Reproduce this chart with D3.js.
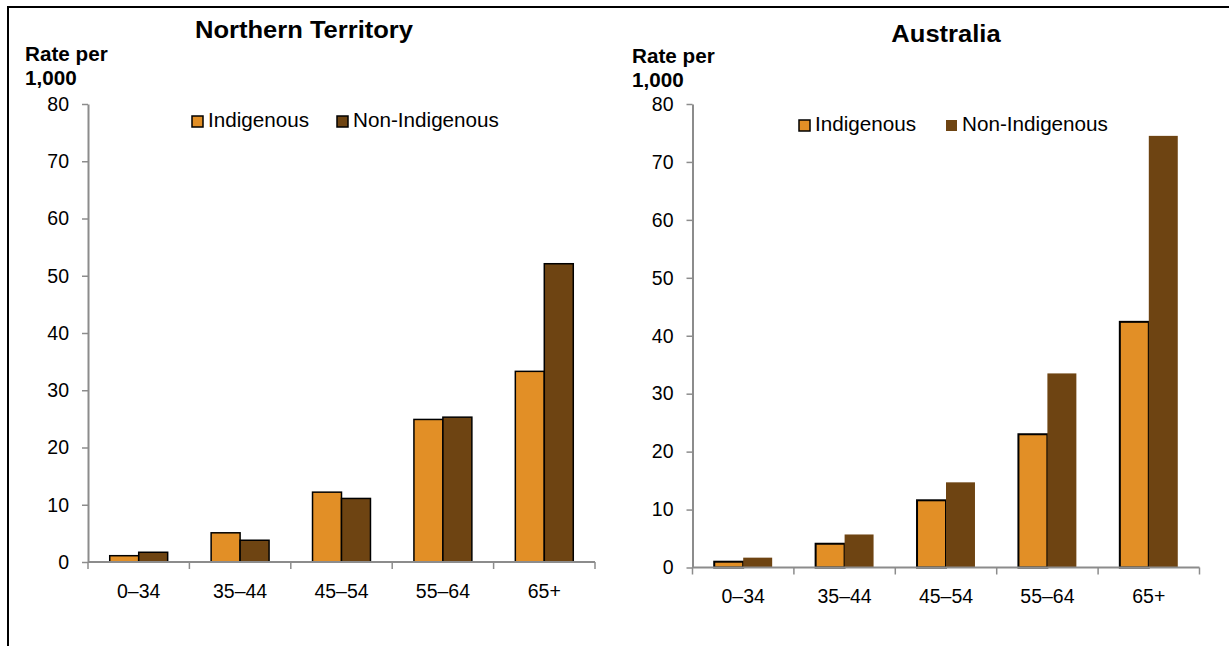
<!DOCTYPE html>
<html>
<head>
<meta charset="utf-8">
<script src="https://cdn.jsdelivr.net/npm/d3@7"></script>
<style>
  html, body { margin: 0; padding: 0; background: #fff; }
  svg { display: block; font-family: "Liberation Sans", Arial, sans-serif; }
</style>
</head>
<body>
<svg id="chart" width="1229" height="646"></svg>
<script>
const categories = ["0–34", "35–44", "45–54", "55–64", "65+"];
const seriesNames = ["Indigenous", "Non-Indigenous"];
const ntIndigenous = [1.1, 5.1, 12.2, 24.9, 33.3];
const ntNonIndigenous = [1.7, 3.8, 11.1, 25.3, 52.1];
const ausIndigenous = [1.0, 4.1, 11.6, 23.0, 42.4];
const ausNonIndigenous = [1.7, 5.7, 14.7, 33.5, 74.5];
const yTicks = [0, 10, 20, 30, 40, 50, 60, 70, 80];
const panelTitles = ["Northern Territory", "Australia"];
const yAxisLabel = ["Rate per", "1,000"];

const colors = { "Indigenous": "#E28F26", "Non-Indigenous": "#6E4412" };

const svg = d3.select("#chart");

// widen text horizontally (reference glyphs are wider than Arial metrics)
function stretch(sel, factor) {
  sel.each(function () {
    const len = this.getComputedTextLength();
    d3.select(this).attr("textLength", len * factor).attr("lengthAdjust", "spacingAndGlyphs");
  });
}

// frame
svg.append("line").attr("x1", 7).attr("x2", 1229).attr("y1", 7).attr("y2", 7)
  .attr("stroke", "#000").attr("stroke-width", 2);
svg.append("line").attr("x1", 8).attr("x2", 8).attr("y1", 7).attr("y2", 646)
  .attr("stroke", "#000").attr("stroke-width", 2);

function drawPanel(cfg) {
  const g = svg.append("g");
  const x0 = d3.scaleBand().domain(categories).range([cfg.left, cfg.right]).padding(0);
  const x1 = d3.scaleBand().domain(seriesNames).range([0, x0.bandwidth()])
    .paddingInner(0).paddingOuter(0.75);
  const y = d3.scaleLinear().domain([0, 80]).range([cfg.bottom, cfg.top]);

  const data = categories.map((c, i) => ({
    cat: c,
    vals: [
      { s: "Indigenous", v: cfg.ind[i] },
      { s: "Non-Indigenous", v: cfg.non[i] }
    ]
  }));

  // bars
  const groups = g.selectAll("g.cat").data(data).join("g")
    .attr("class", "cat")
    .attr("transform", d => `translate(${x0(d.cat)},0)`);
  groups.selectAll("rect").data(d => d.vals).join("rect")
    .attr("x", d => x1(d.s))
    .attr("width", x1.bandwidth())
    .attr("y", d => y(d.v))
    .attr("height", d => y(0) - y(d.v))
    .attr("fill", d => colors[d.s])
    .attr("stroke", d => cfg.outline[d.s] ? "#000" : "none")
    .attr("stroke-width", d => cfg.outline[d.s] || 0);

  // y axis
  const yAxis = d3.axisLeft(y).tickValues(yTicks).tickSize(6).tickSizeOuter(0).tickPadding(13);
  const ya = g.append("g").attr("transform", `translate(${cfg.left},0)`).call(yAxis);
  ya.select(".domain").attr("stroke", "#8c8c8c").attr("stroke-width", 2);
  ya.selectAll(".tick line").attr("stroke", "#8c8c8c").attr("stroke-width", 1.5);
  ya.selectAll(".tick text").attr("fill", "#000").attr("font-size", 19.5)
    .attr("font-family", "Liberation Sans, Arial, sans-serif");

  // x axis (labels)
  const xAxis = d3.axisBottom(x0).tickSize(0).tickSizeOuter(0).tickPadding(22);
  const xa = g.append("g").attr("transform", `translate(0,${cfg.bottom})`).call(xAxis);
  xa.select(".domain").remove();
  xa.selectAll(".tick text").attr("fill", "#000").attr("font-size", 19.5)
    .attr("font-family", "Liberation Sans, Arial, sans-serif");
  // x axis line and boundary ticks
  g.append("line").attr("x1", cfg.left).attr("x2", cfg.right)
    .attr("y1", y(0)).attr("y2", y(0))
    .attr("stroke", "#8c8c8c").attr("stroke-width", 2);
  const bounds = categories.map(c => x0(c)).concat([x0.range()[1]]);
  g.selectAll("line.xt").data(bounds).join("line")
    .attr("class", "xt")
    .attr("x1", d => d).attr("x2", d => d)
    .attr("y1", y(0)).attr("y2", y(0) + 7)
    .attr("stroke", "#8c8c8c").attr("stroke-width", 1.5);

  // title
  g.append("text").attr("x", cfg.titleX).attr("y", cfg.titleY)
    .attr("text-anchor", "middle").attr("font-weight", "bold").attr("font-size", 23)
    .text(cfg.title).call(stretch, 1.11);

  // y label
  g.append("text").attr("x", cfg.labelX).attr("y", cfg.labelY)
    .attr("font-weight", "bold").attr("font-size", 19.5).text(yAxisLabel[0]).call(stretch, 1.06);
  g.append("text").attr("x", cfg.labelX).attr("y", cfg.labelY + 24)
    .attr("font-weight", "bold").attr("font-size", 19.5).text(yAxisLabel[1]).call(stretch, 1.06);

  // legend
  seriesNames.forEach((s, i) => {
    const lx = cfg.legend[i];
    g.append("rect").attr("x", lx).attr("y", cfg.legendY - 11)
      .attr("width", 11).attr("height", 11)
      .attr("fill", colors[s])
      .attr("stroke", cfg.legendOutline[s] ? "#000" : "none")
      .attr("stroke-width", 1.5);
    g.append("text").attr("x", lx + 16).attr("y", cfg.legendY)
      .attr("font-size", 19.5).text(s).call(stretch, 1.06);
  });
}

drawPanel({
  left: 88, right: 595, top: 104, bottom: 562,
  ind: ntIndigenous, non: ntNonIndigenous,
  outline: { "Indigenous": 1.5, "Non-Indigenous": 1.5 },
  legendOutline: { "Indigenous": true, "Non-Indigenous": true },
  title: panelTitles[0], titleX: 304, titleY: 38,
  labelX: 25, labelY: 61,
  legend: [192, 337], legendY: 127
});

drawPanel({
  left: 692.5, right: 1199.5, top: 104, bottom: 567.5,
  ind: ausIndigenous, non: ausNonIndigenous,
  outline: { "Indigenous": 2, "Non-Indigenous": 0 },
  legendOutline: { "Indigenous": true, "Non-Indigenous": false },
  title: panelTitles[1], titleX: 946, titleY: 42,
  labelX: 632, labelY: 63,
  legend: [799, 946], legendY: 131
});
</script>
</body>
</html>
